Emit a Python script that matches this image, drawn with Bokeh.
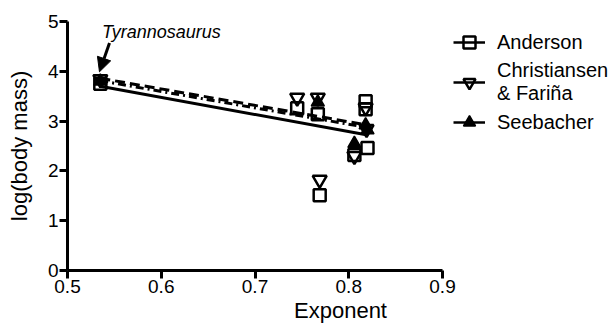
from bokeh.plotting import figure
from bokeh.models import (Range1d, FixedTicker, Legend, LegendItem, Arrow,
                          NormalHead, Label)
from bokeh.embed import file_html
from bokeh.resources import INLINE

# ---- data ----
anderson_x = [0.535, 0.745, 0.767, 0.769, 0.806, 0.818, 0.818, 0.820]
anderson_y = [3.75, 3.26, 3.14, 1.51, 2.32, 3.40, 3.24, 2.46]

christiansen_x = [0.535, 0.745, 0.767, 0.769, 0.806, 0.818, 0.819]
christiansen_y = [3.84, 3.47, 3.47, 1.82, 2.30, 3.27, 2.84]

seebacher_x = [0.535, 0.767, 0.806, 0.818, 0.820]
seebacher_y = [3.80, 3.38, 2.55, 2.92, 2.82]

fit_x = [0.535, 0.820]
anderson_fit = [3.70, 2.72]
christiansen_fit = [3.86, 2.92]
seebacher_fit = [3.81, 2.87]

x_ticks = [0.5, 0.6, 0.7, 0.8, 0.9]
x_tick_labels = ["0.5", "0.6", "0.7", "0.8", "0.9"]
y_ticks = [0, 1, 2, 3, 4, 5]

series_names = ["Anderson", "Christiansen\n& Fariña", "Seebacher"]
annotation_text = "Tyrannosaurus"
arrow_tail = (0.5448, 4.57)
arrow_head = (0.5341, 3.99)
label_pos = (0.5368, 4.79)

NAN = float("nan")
FONT = "Liberation Sans"

W, H = 613, 327
LEFT = 67
PX_PER_UNIT_X = 937.5

p = figure(width=W, height=H, output_backend="svg", toolbar_location=None,
           x_range=Range1d(0.5, 0.5 + (W - LEFT) / PX_PER_UNIT_X),
           y_range=Range1d(0, 5),
           min_border_left=LEFT, min_border_right=0, min_border_top=21,
           min_border_bottom=57)
p.outline_line_color = None
p.xgrid.visible = False
p.ygrid.visible = False
p.background_fill_color = "white"
p.border_fill_color = "white"

for ax in (p.xaxis[0], p.yaxis[0]):
    ax.axis_line_width = 3
    ax.major_tick_line_width = 3
    ax.major_tick_out = 8
    ax.major_tick_in = 0
    ax.minor_tick_out = 0
    ax.minor_tick_in = 0
    ax.major_label_text_font = FONT
    ax.major_label_text_font_size = "19px"
    ax.major_label_text_color = "black"
    ax.axis_label_text_font = FONT
    ax.axis_label_text_font_size = "22px"
    ax.axis_label_text_font_style = "normal"
    ax.axis_label_text_color = "black"
    ax.major_label_standoff = 1

p.xaxis.ticker = FixedTicker(ticks=x_ticks)
p.xaxis.major_label_overrides = {t: l for t, l in zip(x_ticks, x_tick_labels)}
p.xaxis.bounds = (x_ticks[0], x_ticks[-1])
p.xaxis.axis_label = "Exponent"
p.xaxis.axis_label_standoff = 2

p.yaxis.ticker = FixedTicker(ticks=y_ticks)
p.yaxis.bounds = (y_ticks[0], y_ticks[-1])
p.yaxis.axis_label = "log(body mass)"
p.yaxis.axis_label_standoff = 13

# fit lines
p.line(fit_x, anderson_fit, line_color="black", line_width=3)
p.line(fit_x, christiansen_fit, line_color="black", line_width=3, line_dash="10 5")
p.line(fit_x, seebacher_fit, line_color="black", line_width=3, line_dash="8 4 2 4")

# points
p.scatter(anderson_x, anderson_y, marker="square", size=12, fill_alpha=0,
          line_color="black", line_width=2.5)
p.scatter(christiansen_x, christiansen_y, marker="inverted_triangle", size=14,
          fill_alpha=0, line_color="black", line_width=2.5)
p.scatter(seebacher_x, seebacher_y, marker="triangle", size=13,
          fill_color="black", line_color="black", line_width=1.5)

# legend-only renderers (NaN data: nothing drawn in the plot)
legend_styles = [
    dict(marker="square", fill_alpha=0, line_width=2.5),
    dict(marker="inverted_triangle", fill_alpha=0, line_width=2.5),
    dict(marker="triangle", fill_color="black", line_width=1.5),
]
items = []
for name, st in zip(series_names, legend_styles):
    lr = p.line(x=[NAN], y=[NAN], line_color="black", line_width=2.5)
    sr = p.scatter(x=[NAN], y=[NAN], line_color="black", **st)
    items.append(LegendItem(label=name, renderers=[lr, sr]))

legend = Legend(items=items, location=(386, 133))
legend.background_fill_alpha = 0
legend.border_line_color = None
legend.padding = 0
legend.margin = 0
legend.spacing = 2
legend.glyph_width = 32
legend.glyph_height = 30
legend.label_standoff = 12
legend.label_text_font = FONT
legend.label_text_font_size = "20px"
legend.label_text_color = "black"
p.add_layout(legend, "center")

p.add_layout(Arrow(end=NormalHead(size=14, fill_color="black", line_color="black"),
                   x_start=arrow_tail[0], y_start=arrow_tail[1],
                   x_end=arrow_head[0], y_end=arrow_head[1],
                   line_width=3, line_color="black"))
p.add_layout(Label(x=label_pos[0], y=label_pos[1], text=annotation_text,
                   text_font=FONT, text_font_size="18px",
                   text_font_style="italic", text_baseline="alphabetic",
                   text_color="black"))

open("out.html", "w").write(file_html(p, INLINE))
